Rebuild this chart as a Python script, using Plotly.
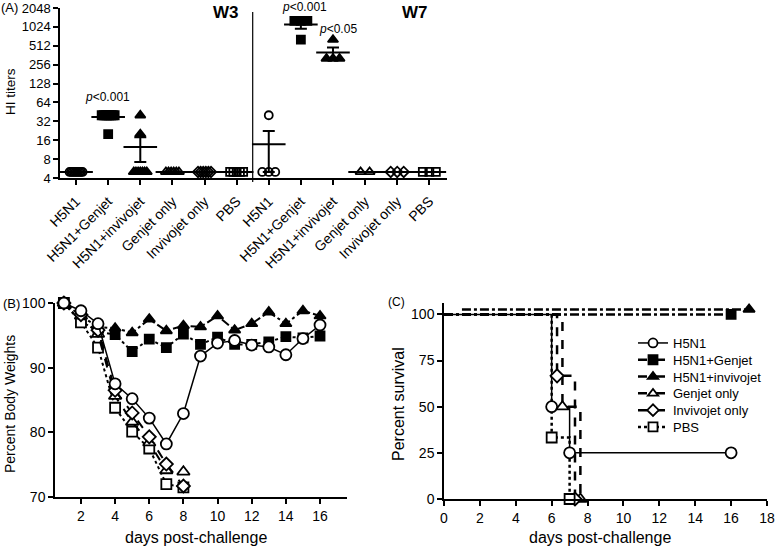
import math
import plotly.graph_objects as go

W, H = 775, 548
FONT = "Arial, Liberation Sans, sans-serif"

# ---------------- Panel A data (HI titers) ----------------
groups = ["H5N1", "H5N1+Genjet", "H5N1+invivojet", "Genjet only", "Invivojet only", "PBS"]
a_tick_labels = groups + groups
titer_ticks = [4, 8, 16, 32, 64, 128, 256, 512, 1024, 2048]

w3_h5n1 = [5, 5, 5, 5, 5, 5, 5, 5, 5, 5]
w3_genjet = [40, 40, 40, 40, 40, 40, 40, 40, 20]
w3_invivo = [40, 20, 5, 5, 5, 5, 5, 5, 5]
w3_genjet_only = [5, 5, 5, 5, 5, 5]
w3_invivo_only = [5, 5, 5, 5, 5, 5]
w3_pbs = [5, 5, 5, 5, 5]
w7_h5n1 = [40, 5, 5, 5]
w7_genjet = [1280, 1280, 1280, 640]
w7_invivo = [640, 320, 320, 320]
w7_genjet_only = [5, 5]
w7_invivo_only = [5, 5, 5]
w7_pbs = [5, 5, 5]

a_means = [5, 37.5, 12.5, 5, 5, 5, 13.75, 1120, 400, 5, 5, 5]
a_sem = [0, 2.5, 5.3, 0, 0, 0, 8.75, 160, 80, 0, 0, 0]

# ---------------- Panel B data (body weights) ----------------
days = list(range(1, 17))
days_short = list(range(1, 9))
bw_h5n1 = [100, 98.8, 96.8, 87.5, 85.2, 82.2, 78.2, 82.9, 91.8, 93.8, 94.2, 93.5, 93.2, 92.0, 94.5, 96.6]
bw_genjet = [100, 97.2, 95.6, 95.1, 92.5, 94.4, 93.1, 95.2, 93.6, 94.7, 93.6, 93.6, 94.0, 94.8, 94.6, 94.9]
bw_invivo = [100, 98.0, 96.3, 96.1, 95.4, 97.5, 95.7, 96.5, 96.3, 98.0, 95.8, 96.8, 98.6, 96.8, 98.8, 98.0]
bw_genjet_only = [100, 98.0, 95.2, 85.6, 81.6, 78.4, 74.1, 73.9]
bw_invivo_only = [100, 98.2, 95.8, 86.5, 83.0, 79.3, 75.1, 71.7]
bw_pbs = [100, 97.0, 93.1, 83.8, 80.1, 77.5, 72.0, 71.5]

# ---------------- Panel C data (survival) ----------------
sv_h5n1_x = [0, 6, 7, 16]
sv_h5n1_y = [100, 50, 25, 25]
sv_genjet_x = [0, 16]
sv_genjet_y = [100, 100]
sv_invivo_x = [1, 17]
sv_invivo_y = [102.7, 102.7]
sv_genjet_only_x = [0, 6.6, 7.6]
sv_genjet_only_y = [100, 50, 0]
sv_invivo_only_x = [0, 6.3, 7.3]
sv_invivo_only_y = [100, 66.7, 0]
sv_pbs_x = [0, 6, 7]
sv_pbs_y = [100, 33.3, 0]


def px(x):
    return x / W


def py(y):
    return 1 - y / H


# geometry of panel A
A_X0, A_X1 = 60, 447
A_RANGE = [-0.5, 11.55]
PX_PER_CAT = (A_X1 - A_X0) / (A_RANGE[1] - A_RANGE[0])


def swarm(vals, idx):
    counts = {}
    for v in vals:
        counts[v] = counts.get(v, 0) + 1
    seen = {}
    xs = []
    for v in vals:
        n = counts[v]
        k = seen.get(v, 0)
        seen[v] = k + 1
        step = min(9.0, 13.0 / (n - 1)) if n > 1 else 0
        xs.append(idx + (k - (n - 1) / 2) * step / PX_PER_CAT)
    return xs


fig = go.Figure()

a_sets = [w3_h5n1, w3_genjet, w3_invivo, w3_genjet_only, w3_invivo_only, w3_pbs,
          w7_h5n1, w7_genjet, w7_invivo, w7_genjet_only, w7_invivo_only, w7_pbs]
a_symbols = ["circle-open", "square", "triangle-up", "triangle-up-open", "diamond-open", "square-open"]
a_sizes = [8, 8, 9, 9, 8, 8]

for i, vals in enumerate(a_sets):
    g = i % 6
    fig.add_trace(go.Scatter(
        x=swarm(vals, i), y=vals, mode="markers", xaxis="x", yaxis="y",
        marker=dict(symbol=a_symbols[g], size=a_sizes[g], color="black",
                    line=dict(color="black", width=1.8)),
        showlegend=False, hoverinfo="skip", cliponaxis=False))

# mean lines
fig.add_trace(go.Scatter(
    x=list(range(12)), y=a_means, mode="markers", xaxis="x", yaxis="y",
    marker=dict(symbol="line-ew-open", size=24, color="black", line=dict(color="black", width=2)),
    showlegend=False, hoverinfo="skip", cliponaxis=False))
# SEM error bars
eb_idx = [i for i in range(12) if a_sem[i] > 0]
fig.add_trace(go.Scatter(
    x=eb_idx, y=[a_means[i] for i in eb_idx], mode="markers", xaxis="x", yaxis="y",
    marker=dict(size=1, color="rgba(0,0,0,0)"),
    error_y=dict(type="data", array=[a_sem[i] for i in eb_idx], color="black",
                 thickness=2, width=6),
    showlegend=False, hoverinfo="skip", cliponaxis=False))

# ---------------- Panel B traces ----------------
series_names = ["H5N1", "H5N1+Genjet", "H5N1+invivojet", "Genjet only", "Invivojet only", "PBS"]
sym = ["circle", "square", "triangle-up", "triangle-up", "diamond", "square"]
fills = ["white", "black", "black", "white", "white", "white"]
dashes_b = ["solid", "dot", "dashdot", "dash", "dash", "dot"]
b_x = [days, days, days, days_short, days_short, days_short]
b_y = [bw_h5n1, bw_genjet, bw_invivo, bw_genjet_only, bw_invivo_only, bw_pbs]
b_sizes = [11, 9, 10, 11, 10, 10]

order_b = [1, 2, 5, 3, 4, 0]
for k in order_b:
    fig.add_trace(go.Scatter(
        x=b_x[k], y=b_y[k], mode="lines+markers", xaxis="x2", yaxis="y2",
        line=dict(color="black", width=2 if k != 0 else 1.5, dash=dashes_b[k]),
        marker=dict(symbol=sym[k], size=b_sizes[k], color=fills[k],
                    line=dict(color="black", width=1.8)),
        showlegend=False, hoverinfo="skip", cliponaxis=False))

# ---------------- Panel C traces ----------------
c_x = [sv_h5n1_x, sv_genjet_x, sv_invivo_x, sv_genjet_only_x, sv_invivo_only_x, sv_pbs_x]
c_y = [sv_h5n1_y, sv_genjet_y, sv_invivo_y, sv_genjet_only_y, sv_invivo_only_y, sv_pbs_y]
dashes_c = ["solid", "dashdot", "dashdot", "dash", "dash", "dot"]
widths_c = [1.5, 2.5, 2.5, 2.5, 2.5, 2.5]

for k in range(6):
    fig.add_trace(go.Scatter(
        x=c_x[k], y=c_y[k], mode="lines", line_shape="hv", xaxis="x3", yaxis="y3",
        line=dict(color="black", width=widths_c[k], dash=dashes_c[k]),
        showlegend=False, hoverinfo="skip", cliponaxis=False))
for k in range(6):
    fig.add_trace(go.Scatter(
        x=c_x[k][1:], y=c_y[k][1:], mode="markers", xaxis="x3", yaxis="y3",
        marker=dict(symbol=sym[k], size=b_sizes[k], color=fills[k],
                    line=dict(color="black", width=1.8)),
        showlegend=False, hoverinfo="skip", cliponaxis=False))

# legend entries: one small legend per series so the row spacing matches
LEG_TOP, LEG_STEP = 343, 16.8
legend_layouts = {}
for k in range(6):
    lname = "legend" if k == 0 else "legend%d" % (k + 1)
    fig.add_trace(go.Scatter(
        x=[None], y=[None], mode="lines+markers", xaxis="x3", yaxis="y3",
        name=series_names[k], legend=lname,
        line=dict(color="black", width=widths_c[k], dash=dashes_c[k]),
        marker=dict(symbol=sym[k], size=9, color=fills[k], line=dict(color="black", width=1.8)),
        showlegend=True))
    legend_layouts[lname] = dict(
        x=px(633), y=py(LEG_TOP + LEG_STEP * k), xanchor="left", yanchor="middle",
        bgcolor="rgba(0,0,0,0)", borderwidth=0,
        font=dict(family=FONT, size=13, color="black"), itemwidth=30)

axis_common = dict(showline=True, linecolor="black", linewidth=1.5, ticks="outside",
                   ticklen=5, tickwidth=1.5, tickcolor="black", showgrid=False,
                   zeroline=False, automargin=False,
                   tickfont=dict(family=FONT, size=14, color="black"))

fig.update_layout(
    width=W, height=H, margin=dict(l=0, r=0, t=0, b=0, pad=0, autoexpand=False),
    paper_bgcolor="white", plot_bgcolor="white",
    font=dict(family=FONT, color="black"),
    xaxis=dict(axis_common, domain=[px(A_X0), px(A_X1)], range=A_RANGE, anchor="y",
               tickvals=list(range(12)), ticktext=a_tick_labels, tickangle=-45,
               ticklabelstandoff=3,
               tickfont=dict(family=FONT, size=14, color="black")),
    yaxis=dict(axis_common, domain=[py(178), py(8)], type="log",
               range=[math.log10(4), math.log10(2048)], anchor="x",
               tickvals=titer_ticks, ticktext=[str(t) for t in titer_ticks],
               tickfont=dict(family=FONT, size=13, color="black")),
    xaxis2=dict(axis_common, domain=[px(55), px(347)], range=[0.48, 17.58], anchor="y2",
                tickvals=[2, 4, 6, 8, 10, 12, 14, 16]),
    yaxis2=dict(axis_common, domain=[py(497), py(303)], range=[70, 100], anchor="x2",
                tickvals=[70, 80, 90, 100]),
    xaxis3=dict(axis_common, domain=[px(444), px(767)], range=[0, 18], anchor="y3",
                tickvals=list(range(0, 19, 2))),
    yaxis3=dict(axis_common, domain=[py(499), py(303.3)], range=[0, 106], anchor="x3",
                tickvals=[0, 25, 50, 75, 100]),
    **legend_layouts,
)

# separator line in panel A
fig.add_shape(type="line", xref="x", yref="paper", x0=5.5, x1=5.5, y0=py(182), y1=py(12),
              line=dict(color="black", width=1.2))

ann = []


def text(x, y, s, size, **kw):
    d = dict(x=px(x), y=py(y), xref="paper", yref="paper", text=s, showarrow=False,
             font=dict(family=FONT, size=size, color="black"), xanchor="center", yanchor="middle")
    d.update(kw)
    ann.append(d)


text(9, 8, "(A)", 13)
text(10, 92, "HI titers", 13.5, textangle=-90)
text(226, 13, "<b>W3</b>", 17)
text(415, 13, "<b>W7</b>", 17)
text(108, 97, "<i>p</i>&lt;0.001", 12)
text(304, 7, "<i>p</i>&lt;0.001", 12)
text(338, 29, "<i>p</i>&lt;0.05", 12)
text(11, 303, "(B)", 13)
text(10, 404, "Percent Body Weights", 14, textangle=-90)
text(196, 537, "days post-challenge", 16)
text(397, 302, "(C)", 12)
text(398, 404, "Percent survival", 16, textangle=-90)
text(600, 537, "days post-challenge", 16)

fig.update_layout(annotations=ann)
fig.write_html("out.html", config={"displayModeBar": False},
               post_script="document.body.style.margin='0';document.body.style.overflow='hidden';")
